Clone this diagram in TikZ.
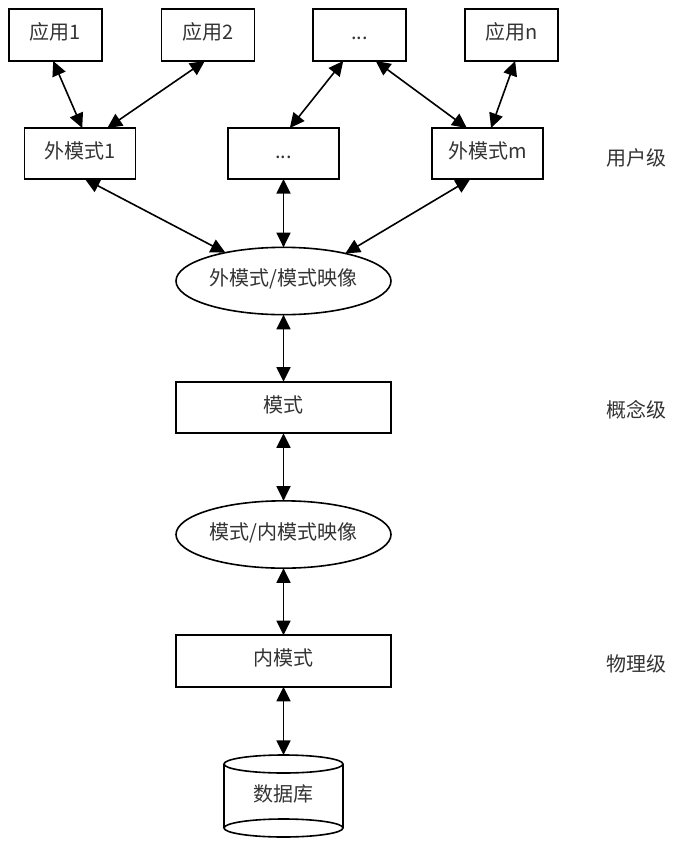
\documentclass[tikz,border=0pt]{standalone}
\usepackage{fontspec}
\setmainfont{Noto Sans CJK SC}
\usetikzlibrary{arrows.meta,shapes.geometric}
\definecolor{txtgray}{HTML}{333333}
\tikzset{
  every node/.style={font=\fontsize{15}{18}\selectfont, text=txtgray, inner sep=0pt, outer sep=0pt,
    text height=0.85em, text depth=0.15em},
  appbox/.style={draw, line width=1.2pt, minimum width=69.75pt, minimum height=39pt},
  extbox/.style={draw, line width=1.2pt, minimum width=83.25pt, minimum height=38.25pt},
  widebox/.style={draw, line width=1.2pt, minimum width=161.25pt, minimum height=38.6pt},
  mapping/.style={draw, ellipse, line width=1.2pt, minimum width=161.25pt, minimum height=50.5pt},
  link/.style={{Triangle[length=11pt,width=10.5pt]}-{Triangle[length=11pt,width=10.5pt]}, line width=1.2pt},
}
\begin{document}
\begin{tikzpicture}[x=0.75pt, y=-0.75pt]
	\useasboundingbox (0,0) rectangle (677,847);
	% applications
	\node [appbox] (app1) at (55.5,35) {应用1};
	\node [appbox] (app2) at (208,35) {应用2};
	\node [appbox] (appdots) at (359.5,35) {...};
	\node [appbox] (appn) at (511.5,35) {应用n};
	% external schemas
	\node [extbox] (ext1) at (80,153.5) {外模式1};
	\node [extbox] (extdots) at (283.5,153.5) {...};
	\node [extbox] (extm) at (487.5,153.5) {外模式m};
	% mappings and schemas
	\node [mapping] (map1) at (283.5,281) {外模式/模式映像};
	\node [widebox] (schema) at (283.5,407.5) {模式};
	\node [mapping] (map2) at (283.5,534.5) {模式/内模式映像};
	\node [widebox] (inner) at (283.5,661) {内模式};
	% database
	\draw [line width=1.2pt] (283.5,764) ellipse [x radius=59.5, y radius=9];
	\draw [line width=1.2pt] (224,764) -- (224,828);
	\draw [line width=1.2pt] (343,764) -- (343,828);
	\draw [line width=1.2pt] (283.5,828) ellipse [x radius=59.5, y radius=9];
	\node (db) at (283.5,797) {数据库};
	\coordinate (dbtop) at (283.5,755);
	% levels
	\node (lvuser) at (636,161) {用户级};
	\node (lvconcept) at (636,413) {概念级};
	\node (lvphys) at (636,667) {物理级};
	% links
	\draw [link] (app1.-95) -- (ext1.85);
	\draw [link] (app2.-97) -- (ext1.43);
	\draw [link] (appdots.-122) -- (extdots.76);
	\draw [link] (appdots.-58) -- (extm.129);
	\draw [link] (appn.-82) -- (extm.82);
	\draw [link] (ext1.-79) -- (map1.154);
	\draw [link] (extdots.south) -- (map1.north);
	\draw [link] (extm.-124) -- (map1.24);
	\draw [link] (map1.south) -- (schema.north);
	\draw [link] (schema.south) -- (map2.north);
	\draw [link] (map2.south) -- (inner.north);
	\draw [link] (inner.south) -- (dbtop);
\end{tikzpicture}
\end{document}
